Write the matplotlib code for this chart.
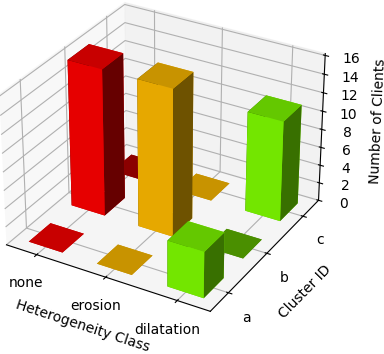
import matplotlib
matplotlib.use("Agg")
import matplotlib.pyplot as plt

classes = ["none", "erosion", "dilatation"]
clusters = ["a", "b", "c"]
# clients per class, one value per cluster
none_counts = [0, 16, 0]
erosion_counts = [0, 16, 0]
dilatation_counts = [5, 0, 11]

# shaded colours per class as they appear in the picture
front_colors = ["#e60000", "#e6a800", "#73e600"]
top_colors = ["#c80000", "#c89300", "#64c800"]
side_colors = ["#660000", "#6e5200", "#387000"]
under_colors = ["#8b0000", "#8b6600", "#4a8f00"]

# empty bars that show their underside
underside = [(0, 2), (2, 1)]

fig = plt.figure(figsize=(3.84, 3.54), dpi=100)
ax = fig.add_axes([-0.072, 0.054, 0.98, 1.02], projection="3d")
ax.set_box_aspect((4, 4, 2.94))

width = 0.5
for i, counts in enumerate([none_counts, erosion_counts, dilatation_counts]):
    for j, n in enumerate(counts):
        if n == 0 and (i, j) in underside:
            top = under_colors[i]
        else:
            top = top_colors[i]
        # faces: -z, +z, -y, +y, -x, +x
        faces = [top, top, front_colors[i], front_colors[i], side_colors[i], side_colors[i]]
        ax.bar3d(i - width / 2, j - width / 2, 0, width, width, n, color=faces, shade=False)

ax.set_xlim(-0.45, 2.45)
ax.set_ylim(-0.45, 2.45)
ax.set_zlim(0, 16.2)
ax.set_xticks(range(3))
ax.set_yticks(range(3))
ax.set_xticklabels(classes)
ax.set_yticklabels(clusters)
ax.set_zticks(range(0, 17, 2))
ax.set_xlabel("Heterogeneity Class")
ax.set_ylabel("Cluster ID")
ax.set_zlabel("Number of Clients")

fig.savefig("out.png", dpi=100)
